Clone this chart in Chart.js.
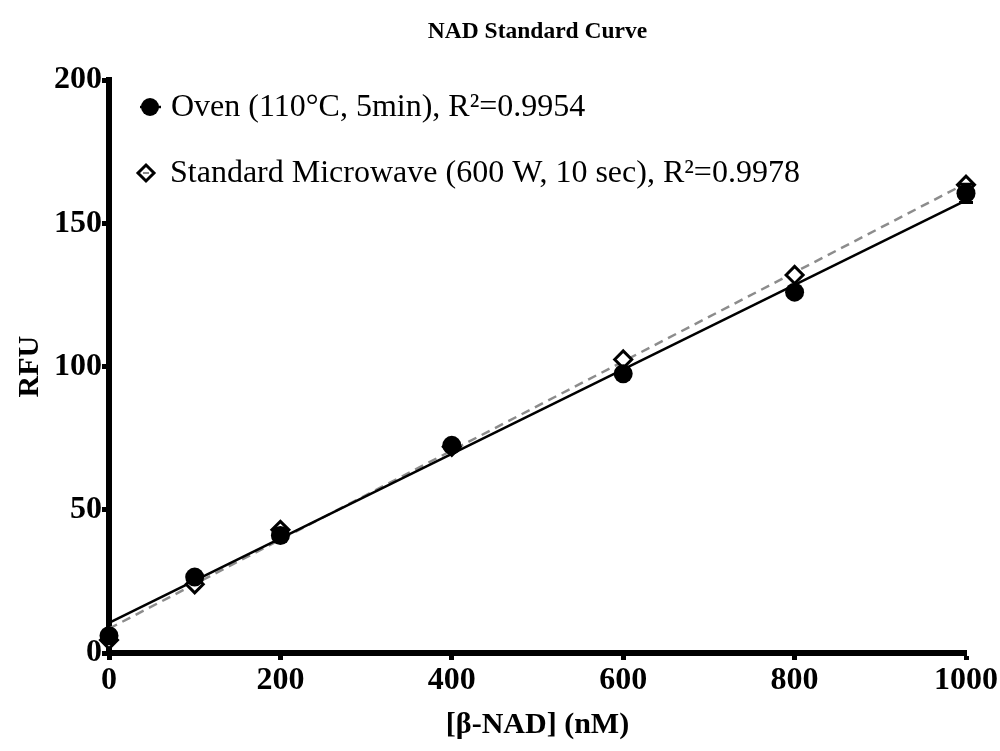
<!DOCTYPE html>
<html>
<head>
<meta charset="utf-8">
<script src="https://cdn.jsdelivr.net/npm/chart.js@4"></script>
<style>
  html, body { margin: 0; padding: 0; background: #fff; }
  #wrap { width: 1000px; height: 751px; }
</style>
</head>
<body>
<div id="wrap"><canvas id="nadChart" width="1000" height="751"></canvas></div>
<script>
const concNM = [0, 100, 200, 400, 600, 800, 1000];
const ovenRFU = [6, 26.5, 41, 72.5, 97.5, 126, 160.5];
const ovenErr = [1, 1, 1, 1, 1, 1, 3.2];
const microRFU = [4.5, 24, 43, 72, 102.5, 132, 163.5];

// fitted regression lines, read at both ends
const fitX = [0, 1000];
const ovenFitRFU = [10.5, 158];
const microFitRFU = [8.5, 164];

const xTicks = [0, 200, 400, 600, 800, 1000];
const yTicks = [0, 50, 100, 150, 200];
const seriesLabels = ['Oven (110°C, 5min), R²=0.9954', 'Standard Microwave (600 W, 10 sec), R²=0.9978'];

const SERIF = '"Liberation Serif", "Times New Roman", serif';

function pts(xs, ys) {
  return xs.map((x, i) => ({ x: x, y: ys[i] }));
}

const errorBars = {
  id: 'errorBars',
  afterDatasetsDraw(chart) {
    const { ctx, scales: { x, y } } = chart;
    ctx.save();
    ctx.strokeStyle = '#000';
    ctx.lineWidth = 3;
    concNM.forEach((c, i) => {
      const px = x.getPixelForValue(c);
      const top = y.getPixelForValue(ovenRFU[i] + ovenErr[i]);
      const bot = y.getPixelForValue(ovenRFU[i] - ovenErr[i]);
      ctx.beginPath();
      ctx.moveTo(px, top); ctx.lineTo(px, bot);
      ctx.moveTo(px - 7, top); ctx.lineTo(px + 7, top);
      ctx.moveTo(px - 7, bot); ctx.lineTo(px + 7, bot);
      ctx.stroke();
    });
    ctx.restore();
  }
};

const seriesLegend = {
  id: 'seriesLegend',
  afterDraw(chart) {
    const ctx = chart.ctx;
    ctx.save();
    ctx.font = '32px ' + SERIF;
    ctx.fillStyle = '#000';
    ctx.textBaseline = 'middle';
    ctx.textAlign = 'left';

    // oven row
    ctx.strokeStyle = '#000';
    ctx.lineWidth = 2.5;
    ctx.beginPath(); ctx.moveTo(140, 107); ctx.lineTo(161, 107); ctx.stroke();
    ctx.beginPath(); ctx.arc(150, 107, 9, 0, Math.PI * 2); ctx.fill();
    ctx.fillText(seriesLabels[0], 171, 108);

    // microwave row
    ctx.beginPath();
    ctx.moveTo(146, 165); ctx.lineTo(154, 173); ctx.lineTo(146, 181); ctx.lineTo(138, 173); ctx.closePath();
    ctx.fillStyle = '#fff'; ctx.fill();
    ctx.lineWidth = 3; ctx.strokeStyle = '#000'; ctx.stroke();
    ctx.strokeStyle = '#888'; ctx.lineWidth = 2;
    ctx.beginPath(); ctx.moveTo(143, 173); ctx.lineTo(149, 173); ctx.stroke();
    ctx.fillStyle = '#000';
    ctx.fillText(seriesLabels[1], 170, 174);
    ctx.restore();
  }
};

const axisGrid = {
  drawOnChartArea: false,
  drawTicks: true,
  tickLength: 7,
  tickWidth: 5,
  tickColor: '#000'
};

new Chart(document.getElementById('nadChart'), {
  type: 'scatter',
  data: {
    datasets: [
      {
        label: seriesLabels[0],
        data: pts(concNM, ovenRFU),
        pointStyle: 'circle',
        pointRadius: 9.5,
        backgroundColor: '#000',
        borderColor: '#000',
        borderWidth: 0,
        clip: false
      },
      {
        label: seriesLabels[1],
        data: pts(concNM, microRFU),
        pointStyle: 'rectRot',
        pointRadius: 8.5,
        backgroundColor: '#fff',
        borderColor: '#000',
        borderWidth: 3,
        clip: false
      },
      {
        type: 'line',
        label: 'oven fit',
        data: pts(fitX, ovenFitRFU),
        borderColor: '#000',
        borderWidth: 2.5,
        pointRadius: 0,
        fill: false,
        clip: false
      },
      {
        type: 'line',
        label: 'microwave fit',
        data: pts(fitX, microFitRFU),
        borderColor: '#8c8c8c',
        borderWidth: 2.5,
        borderDash: [9, 6],
        pointRadius: 0,
        fill: false,
        clip: false
      }
    ]
  },
  options: {
    responsive: false,
    animation: false,
    layout: { padding: 0 },
    plugins: {
      legend: { display: false },
      tooltip: { enabled: false },
      title: {
        display: true,
        fullSize: false,
        text: 'NAD Standard Curve',
        color: '#000',
        font: { family: SERIF, size: 23.5, weight: 'bold' },
        padding: { top: 18, bottom: 34 }
      }
    },
    scales: {
      x: {
        type: 'linear',
        min: 0,
        max: 1000,
        afterBuildTicks: s => { s.ticks = xTicks.map(v => ({ value: v })); },
        afterFit: s => { s.height = 98; },
        ticks: {
          color: '#000',
          font: { family: SERIF, size: 32, weight: 'bold' },
          padding: 2,
          maxRotation: 0,
          callback: v => String(v)
        },
        grid: axisGrid,
        border: { color: '#000', width: 6 },
        title: {
          display: true,
          text: '[β-NAD] (nM)',
          color: '#000',
          font: { family: SERIF, size: 30, weight: 'bold' },
          padding: { top: 0, bottom: 8 }
        }
      },
      y: {
        type: 'linear',
        min: 0,
        max: 200,
        afterBuildTicks: s => { s.ticks = yTicks.map(v => ({ value: v })); },
        afterFit: s => { s.width = 109; },
        ticks: {
          color: '#000',
          font: { family: SERIF, size: 32, weight: 'bold' },
          padding: 0,
          callback: v => String(v)
        },
        grid: axisGrid,
        border: { color: '#000', width: 6 },
        title: {
          display: true,
          text: 'RFU',
          color: '#000',
          font: { family: SERIF, size: 30, weight: 'bold' },
          padding: { top: 12, bottom: 0 }
        }
      }
    }
  },
  plugins: [errorBars, seriesLegend]
});
</script>
</body>
</html>
